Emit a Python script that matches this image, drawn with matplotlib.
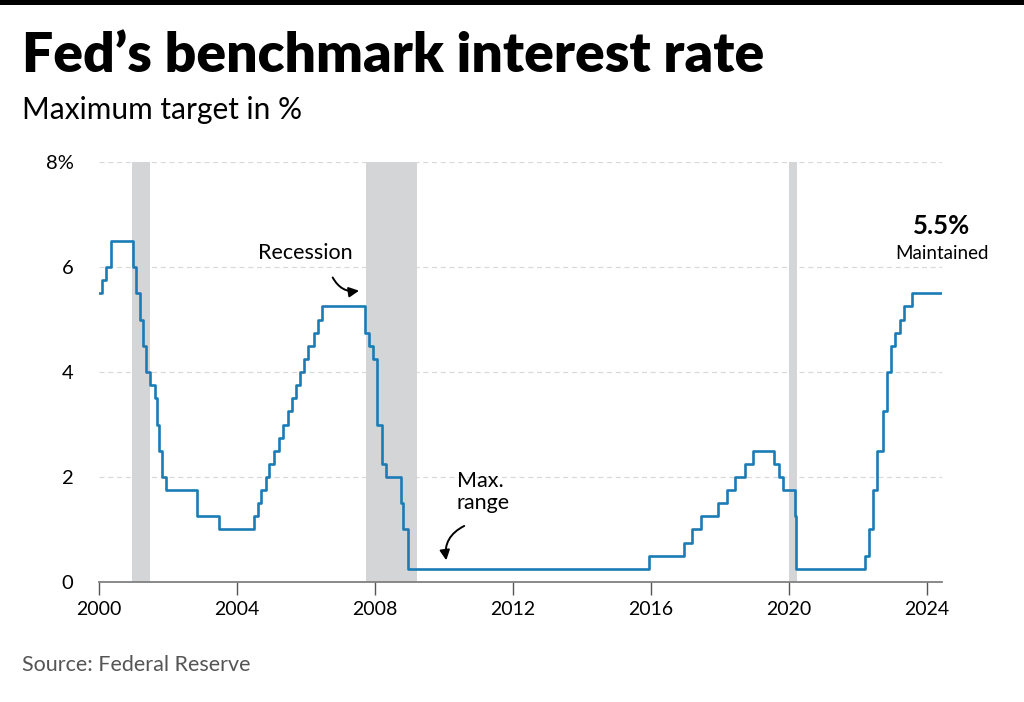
import matplotlib
matplotlib.use("Agg")
import matplotlib.pyplot as plt
from matplotlib.patches import Rectangle
import pandas as pd

plt.rcParams['font.family'] = ['Lato', 'DejaVu Sans']

# Fed funds target (upper bound), change dates and new rate
change_dates = [
    "2000-01-01", "2000-02-02", "2000-03-21", "2000-05-16",
    "2001-01-03", "2001-01-31", "2001-03-20", "2001-04-18", "2001-05-15",
    "2001-06-27", "2001-08-21", "2001-09-17", "2001-10-02", "2001-11-06",
    "2001-12-11", "2002-11-06", "2003-06-25",
    "2004-06-30", "2004-08-10", "2004-09-21", "2004-11-10", "2004-12-14",
    "2005-02-02", "2005-03-22", "2005-05-03", "2005-06-30", "2005-08-09",
    "2005-09-20", "2005-11-01", "2005-12-13",
    "2006-01-31", "2006-03-28", "2006-05-10", "2006-06-29",
    "2007-09-18", "2007-10-31", "2007-12-11",
    "2008-01-22", "2008-01-30", "2008-03-18", "2008-04-30", "2008-10-08",
    "2008-10-29", "2008-12-16",
    "2015-12-16", "2016-12-14", "2017-03-15", "2017-06-14", "2017-12-13",
    "2018-03-21", "2018-06-13", "2018-09-26", "2018-12-19",
    "2019-07-31", "2019-09-18", "2019-10-30", "2020-03-03", "2020-03-15",
    "2022-03-16", "2022-05-04", "2022-06-15", "2022-07-27", "2022-09-21",
    "2022-11-02", "2022-12-14", "2023-02-01", "2023-03-22", "2023-05-03",
    "2023-07-26", "2024-06-12",
]
rates = [
    5.5, 5.75, 6.0, 6.5,
    6.0, 5.5, 5.0, 4.5, 4.0,
    3.75, 3.5, 3.0, 2.5, 2.0,
    1.75, 1.25, 1.0,
    1.25, 1.5, 1.75, 2.0, 2.25,
    2.5, 2.75, 3.0, 3.25, 3.5,
    3.75, 4.0, 4.25,
    4.5, 4.75, 5.0, 5.25,
    4.75, 4.5, 4.25,
    3.5, 3.0, 2.25, 2.0, 1.5,
    1.0, 0.25,
    0.5, 0.75, 1.0, 1.25, 1.5,
    1.75, 2.0, 2.25, 2.5,
    2.25, 2.0, 1.75, 1.25, 0.25,
    0.5, 1.0, 1.75, 2.5, 3.25,
    4.0, 4.5, 4.75, 5.0, 5.25,
    5.5, 5.5,
]

# recession bands as drawn (decimal years)
recession_start = [2000.98, 2007.74, 2020.0]
recession_end = [2001.49, 2009.24, 2020.23]

x_ticks = [2000, 2004, 2008, 2012, 2016, 2020, 2024]
y_ticks = [0, 2, 4, 6, 8]
y_labels = ['0', '2', '4', '6', '8%']

d = pd.to_datetime(change_dates)
years = d.year + (d.dayofyear - 1) / 365.25

fig = plt.figure(figsize=(10.24, 7.02), dpi=100)
ax = fig.add_axes([0.0962, 0.171, 0.824, 0.598])

# top black rule
fig.patches.append(Rectangle((0, 0.993), 1, 0.007, transform=fig.transFigure,
                             facecolor='black', edgecolor='none'))

for s, e in zip(recession_start, recession_end):
    ax.axvspan(s, e, color='#d4d5d7', lw=0, zorder=1)

for yv in y_ticks[1:]:
    ax.axhline(yv, color='#d9d9d9', lw=0.9, ls=(0, (4, 3)), zorder=0)

ax.step(years, rates, where='post', color='#1b7bb5', lw=1.9, zorder=3)

ax.set_xlim(2000, 2024.45)
ax.set_ylim(0, 8)
ax.set_xticks(x_ticks)
ax.set_xticklabels([str(t) for t in x_ticks], fontsize=14)
ax.set_yticks(y_ticks)
ax.set_yticklabels(y_labels, fontsize=14.5)

for sp in ['top', 'right', 'left']:
    ax.spines[sp].set_visible(False)
ax.spines['bottom'].set_color('#808080')
ax.spines['bottom'].set_linewidth(1.3)
ax.tick_params(axis='x', length=9, width=1, color='#555555', pad=5)
ax.tick_params(axis='y', length=0, pad=18)

# annotations
ax.text(2006.0, 6.27, 'Recession', fontsize=15.5, ha='center', va='center')
ax.annotate('', xy=(2007.63, 5.56), xytext=(2006.75, 5.85),
            arrowprops=dict(arrowstyle='-|>', color='black', lw=1.4,
                            connectionstyle='arc3,rad=0.4', mutation_scale=15))
ax.text(2010.38, 1.71, 'Max.\nrange', fontsize=15.5, ha='left', va='center',
        linespacing=1.15)
ax.annotate('', xy=(2010.09, 0.36), xytext=(2010.67, 1.09),
            arrowprops=dict(arrowstyle='-|>', color='black', lw=1.4,
                            connectionstyle='arc3,rad=0.4', mutation_scale=15))
ax.text(2024.43, 6.78, '5.5%', fontsize=18.5, fontweight='bold', ha='center', va='center')
ax.text(2024.43, 6.25, 'Maintained', fontsize=13.5, ha='center', va='center')

fig.text(0.0215, 0.92, 'Fed\u2019s benchmark interest rate', fontsize=39.8,
         fontweight='heavy', ha='left', va='center')
fig.text(0.0215, 0.843, 'Maximum target in %', fontsize=21.5, ha='left', va='center')
fig.text(0.0215, 0.053, 'Source: Federal Reserve', fontsize=15.5, color='#555555',
         ha='left', va='center')

fig.savefig('out.png', dpi=100)
